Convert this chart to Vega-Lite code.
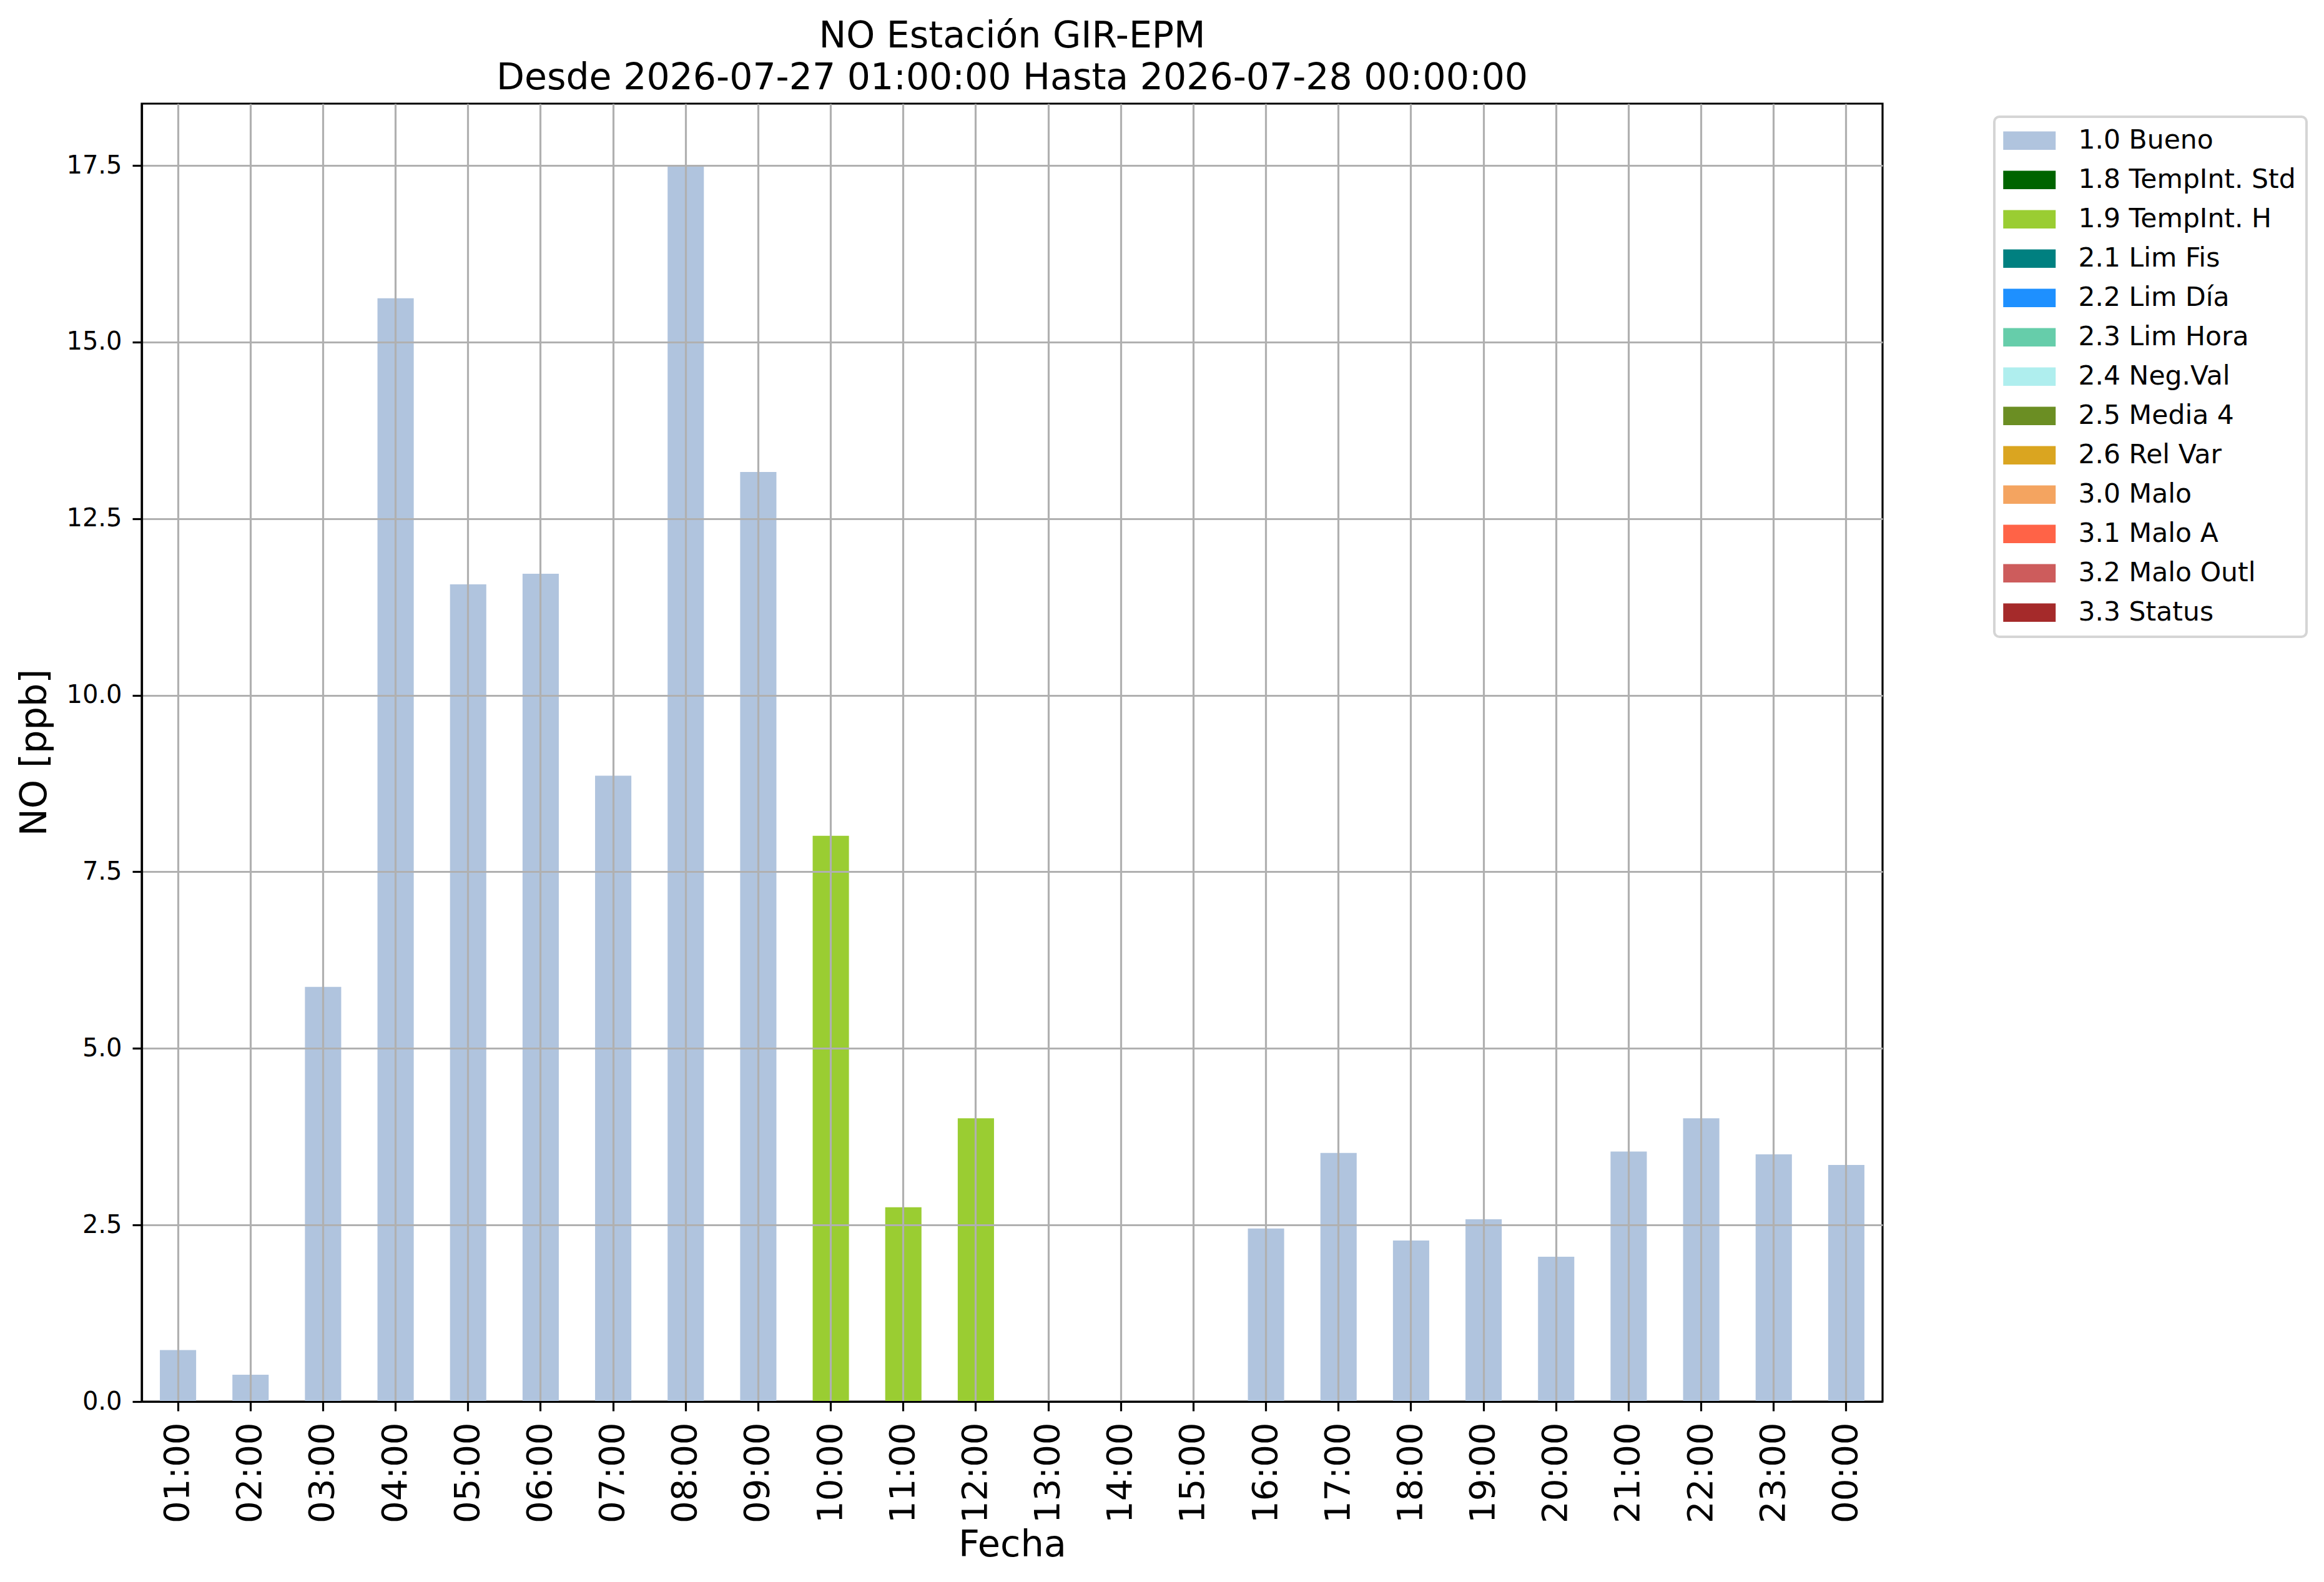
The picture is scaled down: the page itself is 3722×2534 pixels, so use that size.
{
  "$schema": "https://vega.github.io/schema/vega-lite/v6.json",
  "width": 2788,
  "height": 2079,
  "autosize": {"type": "none"},
  "padding": {"left": 227, "top": 166, "right": 707, "bottom": 289},
  "background": "white",
  "title": {
    "text": ["NO Estación GIR-EPM", "Desde 2026-07-27 01:00:00 Hasta 2026-07-28 00:00:00"],
    "fontSize": 58.5,
    "fontWeight": "normal",
    "lineHeight": 67,
    "anchor": "middle",
    "frame": "group",
    "offset": 11,
    "color": "black"
  },
  "data": {
    "values": [
      {"Fecha": "01:00", "NO": 0.73, "Flag": "1.0 Bueno"},
      {"Fecha": "02:00", "NO": 0.38, "Flag": "1.0 Bueno"},
      {"Fecha": "03:00", "NO": 5.87, "Flag": "1.0 Bueno"},
      {"Fecha": "04:00", "NO": 15.62, "Flag": "1.0 Bueno"},
      {"Fecha": "05:00", "NO": 11.57, "Flag": "1.0 Bueno"},
      {"Fecha": "06:00", "NO": 11.72, "Flag": "1.0 Bueno"},
      {"Fecha": "07:00", "NO": 8.86, "Flag": "1.0 Bueno"},
      {"Fecha": "08:00", "NO": 17.5, "Flag": "1.0 Bueno"},
      {"Fecha": "09:00", "NO": 13.16, "Flag": "1.0 Bueno"},
      {"Fecha": "10:00", "NO": 8.01, "Flag": "1.9 TempInt. H"},
      {"Fecha": "11:00", "NO": 2.75, "Flag": "1.9 TempInt. H"},
      {"Fecha": "12:00", "NO": 4.01, "Flag": "1.9 TempInt. H"},
      {"Fecha": "16:00", "NO": 2.45, "Flag": "1.0 Bueno"},
      {"Fecha": "17:00", "NO": 3.52, "Flag": "1.0 Bueno"},
      {"Fecha": "18:00", "NO": 2.28, "Flag": "1.0 Bueno"},
      {"Fecha": "19:00", "NO": 2.58, "Flag": "1.0 Bueno"},
      {"Fecha": "20:00", "NO": 2.05, "Flag": "1.0 Bueno"},
      {"Fecha": "21:00", "NO": 3.54, "Flag": "1.0 Bueno"},
      {"Fecha": "22:00", "NO": 4.01, "Flag": "1.0 Bueno"},
      {"Fecha": "23:00", "NO": 3.5, "Flag": "1.0 Bueno"},
      {"Fecha": "00:00", "NO": 3.35, "Flag": "1.0 Bueno"}
    ]
  },
  "mark": {"type": "bar"},
  "encoding": {
    "x": {
      "field": "Fecha",
      "type": "nominal",
      "sort": null,
      "title": "Fecha",
      "scale": {
        "domain": ["01:00", "02:00", "03:00", "04:00", "05:00", "06:00", "07:00", "08:00", "09:00", "10:00", "11:00", "12:00",
                   "13:00", "14:00", "15:00", "16:00", "17:00", "18:00", "19:00", "20:00", "21:00", "22:00", "23:00", "00:00"],
        "paddingInner": 0.5,
        "paddingOuter": 0.25
      },
      "axis": {
        "bandPosition": 0.5,
        "labelAngle": 270,
        "labelFontSize": 56,
        "labelPadding": 18,
        "labelColor": "black",
        "tickSize": 15,
        "tickWidth": 3.2,
        "tickColor": "black",
        "domainColor": "black",
        "domainWidth": 3.2,
        "grid": true,
        "gridColor": "#b0b0b0",
        "gridWidth": 3.2,
        "zindex": 1,
        "titleFontSize": 59,
        "titleFontWeight": "normal",
        "titleColor": "black",
        "titleBaseline": "alphabetic",
        "titleX": 1394,
        "titleY": 247
      }
    },
    "y": {
      "field": "NO",
      "type": "quantitative",
      "stack": null,
      "title": "NO [ppb]",
      "scale": {"domain": [0, 18.375], "nice": false, "zero": true},
      "axis": {
        "values": [0, 2.5, 5, 7.5, 10, 12.5, 15, 17.5],
        "format": ".1f",
        "labelFontSize": 40,
        "labelPadding": 17,
        "labelColor": "black",
        "tickSize": 15,
        "tickWidth": 3.2,
        "tickColor": "black",
        "domainColor": "black",
        "domainWidth": 3.2,
        "grid": true,
        "gridColor": "#b0b0b0",
        "gridWidth": 3.2,
        "zindex": 1,
        "titleFontSize": 59,
        "titleFontWeight": "normal",
        "titleColor": "black",
        "titleAngle": -90,
        "titleBaseline": "alphabetic",
        "titleX": -154,
        "titleY": 1039
      }
    },
    "color": {
      "field": "Flag",
      "type": "nominal",
      "title": null,
      "scale": {
        "domain": ["1.0 Bueno", "1.8 TempInt. Std", "1.9 TempInt. H", "2.1 Lim Fis", "2.2 Lim Día", "2.3 Lim Hora", "2.4 Neg.Val",
                   "2.5 Media 4", "2.6 Rel Var", "3.0 Malo", "3.1 Malo A", "3.2 Malo Outl", "3.3 Status"],
        "range": ["#b0c4de", "#006400", "#9acd32", "#008080", "#1e90ff", "#66cdaa", "#afeeee",
                  "#6b8e23", "#daa520", "#f4a460", "#ff6347", "#cd5c5c", "#a52a2a"]
      },
      "legend": {
        "orient": "none",
        "legendX": 2967,
        "legendY": 21,
        "symbolType": "M-2,-0.7H2V0.7H-2Z",
        "symbolSize": 1764,
        "symbolStrokeWidth": 0,
        "symbolOpacity": 1,
        "symbolOffset": 18,
        "labelFontSize": 42.5,
        "labelColor": "black",
        "labelOffset": 57,
        "labelLimit": 1000,
        "rowPadding": 20,
        "padding": 17,
        "strokeColor": "#d5d5d5",
        "cornerRadius": 8,
        "fillColor": "white"
      }
    }
  },
  "config": {
    "font": "DejaVu Sans",
    "view": {"stroke": "black", "strokeWidth": 3.2},
    "legend": {"strokeWidth": 4}
  }
}
